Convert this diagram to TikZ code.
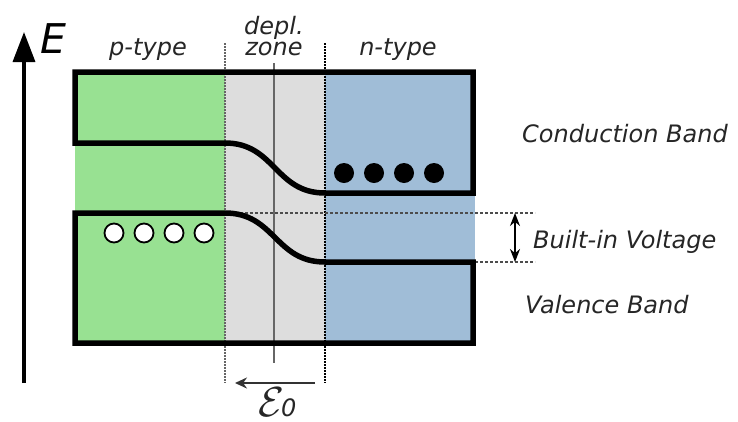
\documentclass[tikz,border=0pt]{standalone}
\usepackage{fontspec}
\usepackage{graphicx}
\setmainfont{DejaVu Sans}
\usetikzlibrary{arrows.meta}
\definecolor{pgreen}{RGB}{152,225,146}
\definecolor{dgray}{RGB}{221,221,221}
\definecolor{nblue}{RGB}{160,189,215}
\tikzset{
  band/.style={line width=5.5pt, line join=miter},
  lbl/.style={inner sep=0pt, font=\fontsize{24}{26}\selectfont\itshape, text=black!85},
  vdot/.style={line width=1.6pt, dash pattern=on 1.5pt off 1.5pt},
  hdot/.style={line width=1.6pt, black!70, dash pattern=on 3pt off 2pt},
}
\begin{document}
\begin{tikzpicture}[x=1pt,y=-1pt]
\useasboundingbox (0,0) rectangle (738,421);
\clip (0,0) rectangle (738,421);
% fills
\fill[pgreen] (75,72) rectangle (225,343);
\fill[dgray] (225,72) rectangle (325,343);
\fill[nblue] (325,72) rectangle (475,343);
% dotted verticals
\draw[vdot, black!60] (225,43) -- (225,383);
\draw[vdot, black] (325,43) -- (325,383);
% center line
\draw[line width=2.2pt, black!60] (274,63) -- (274,363);
% dashed horizontals
\coordinate (vt) at (225,213);
\coordinate (vtr) at (535,213);
\coordinate (vb) at (475,262);
\coordinate (vbr) at (535,262);
\draw[hdot] (vt) -- (vtr);
\draw[hdot] (vb) -- (vbr);
% bands
\draw[band] (75,72) -- (473,72) -- (473,193) -- (325,193)
  .. controls (275,193) and (275,143) .. (225,143) -- (75,143) -- cycle;
\draw[band] (75,213) -- (225,213) .. controls (275,213) and (275,262) .. (325,262)
  -- (473,262) -- (473,343) -- (75,343) -- cycle;
% carriers
\foreach \x [count=\i] in {344,374,404,434} \fill (\x,173) circle (10);
\foreach \x [count=\i] in {114,144,174,204} \draw[line width=1.8pt, fill=white] (\x,233) circle (9.5);
% E axis
\coordinate (ea) at (24,383);
\coordinate (eb) at (24,32);
\draw[line width=3.5pt, -{Triangle[length=30pt,width=22pt]}] (ea) -- (eb);
\node[inner sep=0pt, anchor=base west, font=\fontsize{41}{44}\selectfont\itshape] (E) at (40,53) {E};
% built-in voltage arrow
\coordinate (bt) at (515,213);
\coordinate (bb) at (515,262);
\draw[line width=2pt, {Stealth[length=13pt,width=10pt]}-{Stealth[length=13pt,width=10pt]}] (bt) -- (bb);
% field arrow
\coordinate (fa) at (315,383);
\coordinate (fb) at (235,383);
\draw[line width=2.8pt, black!80, -{Stealth[length=12pt,width=11pt]}] (fa) -- (fb);
% labels
\node[lbl, anchor=base] (p) at (148,55) {p-type};
\node[lbl, anchor=base] (n) at (398,55) {n-type};
\node[lbl, anchor=base, text depth=0pt] (d1) at (274,34) {depl.};
\node[lbl, anchor=base, text height=12pt] (d2) at (274,55) {zone};
\node[lbl, anchor=base west] (cb) at (522,142) {Conduction Band};
\node[lbl, anchor=base west] (bv) at (533,248) {Built-in Voltage};
\node[lbl, anchor=base west] (vbnd) at (525,313) {Valence Band};
\node[inner sep=0pt, anchor=base west, text=black!85] (e0) at (258,416)
  {\scalebox{4.2}{$\mathcal{E}$}\kern-3pt{\fontsize{24}{26}\selectfont\itshape 0}};
\end{tikzpicture}
\end{document}
